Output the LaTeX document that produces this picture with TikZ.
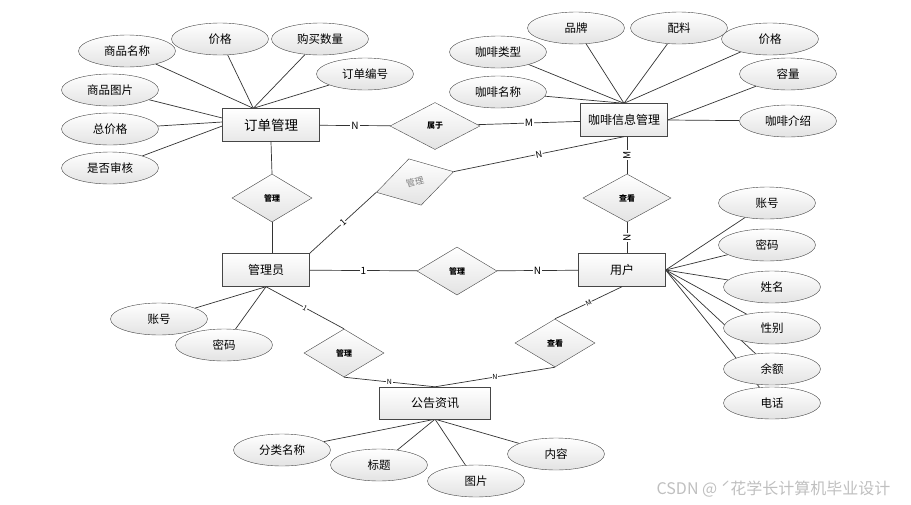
\documentclass[tikz,border=0pt]{standalone}
\usepackage{fontspec}
\setmainfont{Noto Sans CJK SC}
\usetikzlibrary{shapes.geometric,positioning,calc,backgrounds}

\tikzset{
  ent/.style={rectangle, draw=gray!55!black, top color=white, bottom color=gray!18,
    minimum width=87pt, minimum height=33pt, inner sep=0pt, font=\fontsize{12}{14}\selectfont},
  attr/.style={ellipse, draw=gray!55!black, top color=white, bottom color=gray!22,
    minimum width=97pt, minimum height=32pt, inner sep=0pt, font=\fontsize{11.5}{13}\selectfont},
  rel/.style={diamond, draw=gray!55!black, top color=white, bottom color=gray!22,
    minimum width=80pt, minimum height=48pt, inner sep=0pt, font=\fontsize{8}{9}\selectfont\bfseries},
  link/.style={draw=gray!40!black, line width=0.7pt},
  card/.style={fill=white, inner sep=1pt, font=\fontsize{10}{12}\selectfont},
  tinycard/.style={fill=white, inner sep=0.5pt, font=\fontsize{7}{8}\selectfont},
}

\begin{document}
\begin{tikzpicture}[x=1pt,y=-1pt]
\useasboundingbox (0,0) rectangle (911,504);

% entities
\node[ent, minimum width=97pt, font=\fontsize{13.5}{15}\selectfont] (order) at (271,125) {订单管理};
\node[ent] (coffee) at (624,120) {咖啡信息管理};
\node[ent] (admin) at (266,270) {管理员};
\node[ent] (user) at (622,270) {用户};
\node[ent, minimum width=111pt, minimum height=32pt] (notice) at (435,403) {公告资讯};

% relations
\node[rel, minimum width=90pt, minimum height=47pt] (belong) at (435,126) {属于};
\node[rel] (manO) at (272,198) {管理};
\node[rel, rotate=15, text=gray, font=\fontsize{9}{10}\selectfont] (manC) at (415,182) {管理};
\node[rel] (manU) at (457,271) {管理};
\node[rel] (manN) at (344,353) {管理};
\node[rel, minimum width=88pt] (viewC) at (627,198) {查看};
\node[rel] (viewN) at (555,343) {查看};

% attributes
\node[attr] (oName) at (127,51) {商品名称};
\node[attr] (oPrice) at (220,39) {价格};
\node[attr] (oQty) at (320,39) {购买数量};
\node[attr] (oNo) at (365,74) {订单编号};
\node[attr] (oPic) at (110,90) {商品图片};
\node[attr] (oTotal) at (110,129) {总价格};
\node[attr] (oCheck) at (110,168) {是否审核};

\node[attr] (cType) at (498,52) {咖啡类型};
\node[attr] (cBrand) at (576,28) {品牌};
\node[attr] (cMix) at (679,28) {配料};
\node[attr] (cPrice) at (770,39) {价格};
\node[attr] (cCap) at (788,74) {容量};
\node[attr] (cName) at (498,92) {咖啡名称};
\node[attr] (cIntro) at (788,121) {咖啡介绍};

\node[attr] (aAcc) at (159,319) {账号};
\node[attr] (aPwd) at (224,345) {密码};

\node[attr] (uAcc) at (767,203) {账号};
\node[attr] (uPwd) at (767,245) {密码};
\node[attr] (uName) at (772,287) {姓名};
\node[attr] (uSex) at (772,328) {性别};
\node[attr] (uBal) at (772,369) {余额};
\node[attr] (uTel) at (772,403) {电话};

\node[attr] (nCat) at (282,450) {分类名称};
\node[attr] (nTitle) at (379,465) {标题};
\node[attr] (nPic) at (476,481) {图片};
\node[attr] (nText) at (556,454) {内容};

\begin{pgfonlayer}{background}
% attribute links
\coordinate (oTop) at ($(order.north west)+(31,0)$);
\foreach \a in {oName,oPrice,oQty,oNo} \draw[link] (\a) -- (oTop);
\draw[link] (oPic) -- ($(order.west)+(0,-7)$);
\draw[link] (oTotal) -- ($(order.west)+(0,-3)$);
\draw[link] (oCheck) -- ($(order.west)+(0,1)$);
\foreach \a in {cType,cBrand,cMix,cPrice,cName} \draw[link] (\a) -- (coffee.north);
\foreach \a in {cCap,cIntro} \draw[link] (\a) -- (coffee.east);
\foreach \a in {aAcc,aPwd} \draw[link] (\a) -- (admin.south);
\foreach \a in {uAcc,uPwd,uName,uSex,uBal,uTel} \draw[link] (\a) -- (user.east);
\foreach \a in {nCat,nTitle,nPic,nText} \draw[link] (\a) -- (notice.south);
\end{pgfonlayer}

% relation links
\draw[link] (order) -- node[card]{N} (belong);
\draw[link] (belong) -- node[card]{M} (coffee);
\draw[link] (viewC.north |- coffee.south) -- node[card, rotate=90]{M} (viewC.north);
\draw[link] (viewC.south) -- node[card, rotate=90]{N} (viewC.south |- user.north);
\draw[link] (order.south) -- (manO.north);
\draw[link] (manO.south) -- (manO.south |- admin.north);
\draw[link] (admin.north east) -- node[tinycard, font=\fontsize{9}{10}\selectfont, sloped]{1} (manC.west);
\draw[link] (manC.east) -- node[tinycard, font=\fontsize{9}{10}\selectfont, sloped]{N} (coffee.south);
\draw[link] (admin) -- node[card]{1} (manU);
\draw[link] (manU) -- node[card]{N} (user);
\draw[link] (admin.south) -- node[tinycard, sloped]{1} (manN.north);
\draw[link] (manN.south) -- node[tinycard]{N} (notice.north);
\draw[link] (viewN.south) -- node[tinycard]{N} (notice.north);
\draw[link] (user.south) -- node[tinycard, sloped]{M} (viewN.north);

\node[text=gray!50, font=\fontsize{16}{18}\selectfont, anchor=east] (mark) at (894,489) {CSDN @ ˊ花学长计算机毕业设计};
\end{tikzpicture}
\end{document}
